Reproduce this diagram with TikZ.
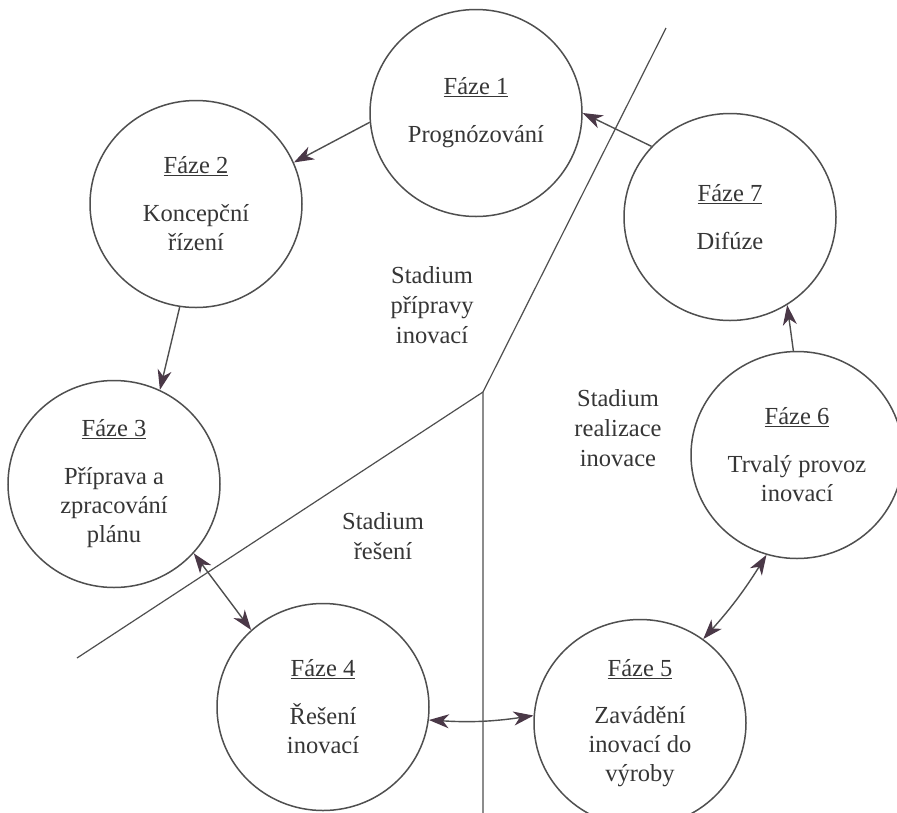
\documentclass[tikz,border=0pt]{standalone}
\usepackage{fontspec}
\setmainfont{Liberation Serif}
\usetikzlibrary{shapes.geometric,arrows.meta}
\definecolor{ink}{HTML}{363636}
\definecolor{linec}{HTML}{4F4F4F}
\definecolor{tipc}{HTML}{4A3847}
\tikzset{
  phase/.style={ellipse,draw=linec,line width=1.5pt,minimum width=212pt,minimum height=207pt,inner sep=0pt,align=center,text=ink,font=\fontsize{24.5}{29}\selectfont},
  stage/.style={align=center,text=ink,font=\fontsize{24.5}{30}\selectfont},
  sep/.style={draw=linec,line width=1.2pt},
  conn/.style={draw=linec,line width=1.4pt,-{Stealth[length=20pt,width=14pt,inset=6pt,color=tipc]}},
  dconn/.style={draw=linec,line width=1.4pt,{Stealth[length=20pt,width=14pt,inset=6pt,color=tipc]}-{Stealth[length=20pt,width=14pt,inset=6pt,color=tipc]}}
}
\begin{document}
\begin{tikzpicture}[x=1pt,y=-1pt]
\useasboundingbox[fill=white] (0,0) rectangle (897,812);
% separating lines
\coordinate (J) at (483,392);
\coordinate (Ltop) at (666,28);
\coordinate (Lbot) at (483,815);
\coordinate (Lleft) at (77,658);
\draw[sep] (Ltop) -- (J) -- (Lbot);
\draw[sep] (J) -- (Lleft);
% phases
\node[phase] (f1) at (476,113) {\underline{Fáze 1}\\[19pt]Prognózování};
\node[phase] (f2) at (196,204) {\underline{Fáze 2}\\[19pt]Koncepční\\řízení};
\node[phase] (f3) at (114,484) {\underline{Fáze 3}\\[19pt]Příprava a\\zpracování\\plánu};
\node[phase] (f4) at (323,707) {\underline{Fáze 4}\\[19pt]Řešení\\inovací};
\node[phase] (f5) at (640,723) {\underline{Fáze 5}\\[18pt]Zavádění\\inovací do\\výroby};
\node[phase] (f6) at (797,455) {\underline{Fáze 6}\\[19pt]Trvalý provoz\\inovací};
\node[phase] (f7) at (730,217) {\underline{Fáze 7}\\[19pt]Difúze};
% stage labels
\node[stage] (s1) at (432,305) {Stadium\\přípravy\\inovací};
\node[stage] (s2) at (618,428) {Stadium\\realizace\\inovace};
\node[stage] (s3) at (383,536) {Stadium\\řešení};
% connectors
\draw[conn] (f1.185) -- (f2.23);
\draw[conn] (f7.138) -- (f1.0);
\draw[conn] (f2.261) -- (f3.64);
\draw[conn] (f6.92) -- (f7.-57);
\draw[dconn] (f3.-41) -- (f4.133);
\draw[dconn] (f6.253) to[bend left=5] (f5.53);
\draw[dconn] (f4.-7) to[bend right=6] (f5.176);
\end{tikzpicture}
\end{document}
